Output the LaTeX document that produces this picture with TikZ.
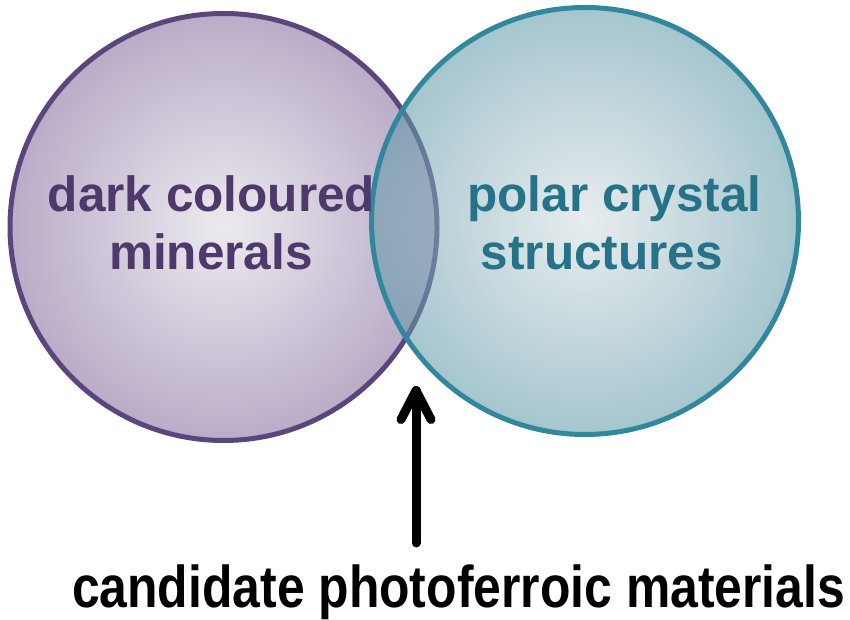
\documentclass[tikz,border=0pt]{standalone}
\usepackage{fontspec}
\setmainfont{Liberation Sans}
\usepackage{graphicx}
\definecolor{purpleline}{RGB}{90,70,125}
\definecolor{purpletext}{RGB}{78,56,108}
\definecolor{purplein}{RGB}{236,234,238}
\definecolor{purpleout}{RGB}{185,172,200}
\definecolor{tealline}{RGB}{49,135,158}
\definecolor{tealtext}{RGB}{38,115,137}
\definecolor{tealin}{RGB}{213,221,224}
\definecolor{tealout}{RGB}{91,151,166}
\tikzset{
  setcircle/.style={circle, inner sep=0pt, minimum size=427pt, line width=5pt},
  leftset/.style={setcircle, draw=purpleline, shade, inner color=purplein, outer color=purpleout},
  rightset/.style={setcircle, draw=tealline, shade, inner color=tealin, outer color=tealout, fill opacity=0.55, draw opacity=1},
  settext/.style={anchor=base, inner sep=0pt, font=\fontsize{49.5}{58}\selectfont\bfseries},
  pointer/.style={line width=9pt, line cap=round, line join=round, black}
}
\begin{document}
\begin{tikzpicture}[x=1pt,y=1pt]
\useasboundingbox (0,0) rectangle (850,620);
\node[leftset] (dark) at (223.5,393) {};
\node[rightset] (polar) at (585,399) {};
\node[settext, text=purpletext] (darkA) at (211.5,408) {dark coloured};
\node[settext, text=purpletext] (darkB) at (211,350) {minerals};
\node[settext, text=tealtext] (polarA) at (614.5,408) {polar crystal};
\node[settext, text=tealtext] (polarB) at (602,350) {structures};
\node[anchor=base, inner sep=0pt, font=\fontsize{59}{70}\selectfont\bfseries] (cand) at (458.5,12.5) {\scalebox{0.845}[1]{candidate photoferroic materials}};
\coordinate (tail) at (416,77);
\coordinate (tip) at (416,229.5);
\draw[pointer] (tail) -- (tip);
\draw[pointer] (tip) ++(-15,-29) -- (tip) -- ++(15,-29);
\end{tikzpicture}
\end{document}
